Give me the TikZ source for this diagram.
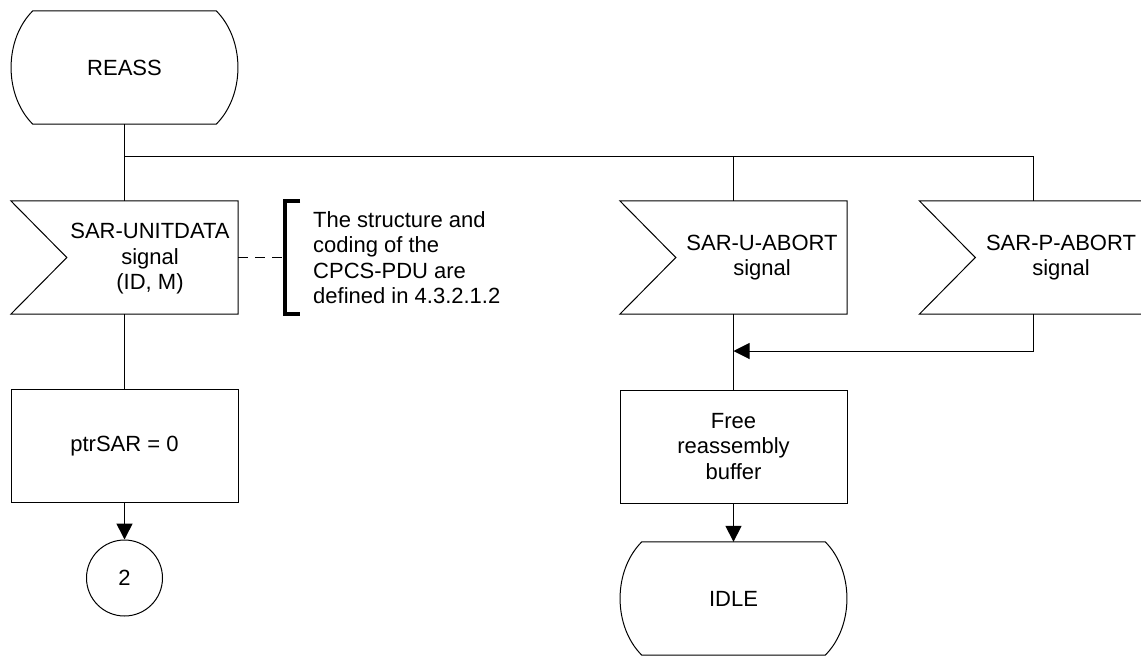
\documentclass[tikz,border=0pt]{standalone}
\usepackage{fontspec}
\setmainfont{Liberation Sans}
\usetikzlibrary{arrows.meta,calc}
\newcommand\statepath[1]{\draw[shp] ([xshift=22pt]#1.north west) -- ([xshift=-22pt]#1.north east) .. controls ([xshift=7pt,yshift=-29pt]#1.north east) and ([xshift=7pt,yshift=29pt]#1.south east) .. ([xshift=-22pt]#1.south east) -- ([xshift=22pt]#1.south west) .. controls ([xshift=-7pt,yshift=29pt]#1.south west) and ([xshift=-7pt,yshift=-29pt]#1.north west) .. cycle;}
\newcommand\signalpath[1]{\draw[shp] (#1.north west) -- (#1.north east) -- (#1.south east) -- (#1.south west) -- ([xshift=56pt]#1.west) -- cycle;}
\begin{document}
\begin{tikzpicture}[x=1pt,y=-1pt,
  txt/.style={font=\fontsize{22}{25.5}\selectfont, align=center, inner sep=0pt},
  boxn/.style={minimum width=227pt, minimum height=113pt, inner sep=0pt},
  shp/.style={draw=black, line width=1pt, line join=miter},
  flow/.style={draw=black, line width=1.6pt},
  thin/.style={draw=black, line width=1pt},
  arr/.style={-{Triangle[length=16pt,width=16pt]}},
]
\useasboundingbox (0,0) rectangle (1141,657);

% nodes
\node[boxn,txt] (reass) at (124.5,67.5) {REASS};
\statepath{reass}

\node[boxn] (sig) at (124.5,257.5) {};
\signalpath{sig}
\node[txt] (sigt) at (150,259) {SAR-UNITDATA\\signal\\(ID, M)};

\node[txt, anchor=west, minimum height=113pt, inner xsep=28pt, align=left] (note) at (285,257.5)
  {The structure and\\coding of the\\CPCS-PDU are\\defined in 4.3.2.1.2};
\draw[line width=3.5pt] ([xshift=15pt]note.north west) -- (note.north west) -- (note.south west) -- ([xshift=15pt]note.south west);

\node[boxn,txt,shp] (ptr) at (124.5,446) {ptrSAR = 0};
\node[draw, circle, minimum size=76pt, line width=1pt, txt] (c2) at (124.5,578) {2};

\node[boxn] (uab) at (733.5,257.5) {};
\signalpath{uab}
\node[txt] (uabt) at (762,257.5) {SAR-U-ABORT\\signal};

\node[boxn] (pab) at (1033,257.5) {};
\signalpath{pab}
\node[txt] (pabt) at (1061,257.5) {SAR-P-ABORT\\signal};

\node[boxn,txt,shp] (free) at (733.5,446.5) {Free\\reassembly\\buffer};
\node[boxn,txt] (idle) at (733.5,598.5) {IDLE};
\statepath{idle}

% connectors
\coordinate (j) at (124.5,156);
\coordinate (mrg) at (733.5,351);
\draw[flow] (reass.south) -- (sig.north);
\draw[thin] (j) -- (j -| pab.north);
\draw[flow] (j -| uab.north) -- (uab.north);
\draw[thin] (j -| pab.north) -- (pab.north);
\draw[flow, dash pattern=on 10pt off 7pt] (sig.east) -- (note.west);
\draw[flow] (sig.south) -- (ptr.north);
\draw[flow, arr] (ptr.south) -- (c2.north);
\draw[flow] (uab.south) -- (free.north);
\draw[thin, arr] (pab.south) |- (mrg);
\draw[flow, arr] (free.south) -- (idle.north);
\end{tikzpicture}
\end{document}
